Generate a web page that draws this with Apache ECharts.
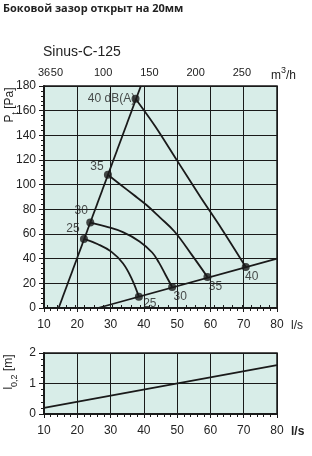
<!DOCTYPE html>
<html>
<head>
<meta charset="utf-8">
<script src="https://cdn.jsdelivr.net/npm/echarts@6/dist/echarts.min.js"></script>
<style>
  html, body { margin: 0; padding: 0; background: #fff; }
  #chart { width: 312px; height: 456px; }
</style>
</head>
<body>
<div id="chart"></div>
<script>
// values (x in l/s, y in Pa or m)
const fanLine = [[14.4, 0], [39.1, 180]]
const systemLine = [[26.2, 0], [80, 40]]
const curve25 = [[22, 56], [26.2, 51.7], [30.2, 45.7], [33.7, 36.3], [36.3, 24.1], [38.5, 9.2]]
const curve30 = [[23.9, 69.3], [28.7, 66], [33.7, 61.5], [38.7, 54], [42.5, 45], [44.5, 37], [46.5, 27], [48.5, 17]]
const curve35 = [[29.2, 108], [33, 100], [36.8, 92], [40.8, 83.5], [44.8, 73.5], [49.2, 62], [54.3, 43.5], [59.1, 25.2]]
const curve40 = [[37.5, 169.7], [43.5, 147], [50, 119.5], [57, 90], [63.3, 64.5], [70.6, 33.3]]
const fanPoints = [[22, 56], [23.9, 69.3], [29.2, 108], [37.5, 169.7]]
const fanLabels = ['25', '30', '35', '40 dB(A)']
const sysPoints = [[38.5, 9.2], [48.5, 17], [59.1, 25.2], [70.6, 33.3]]
const sysLabels = ['25', '30', '35', '40']
const markPoints = [[43.6, 168], [73.8, 43.4]]
const markLabels = ['|-|', '|+|']
const throwLine = [[10, 0.2], [80, 1.6]]
const m3hLabels = [36, 50, 100, 150, 200, 250]
const m3hTicks = [40, 50, 60, 70, 80, 90, 100, 110, 120, 130, 140, 150, 160, 170, 180, 190, 200, 210, 220, 230, 240, 250, 260, 270, 280]

const font = '"Liberation Sans", Arial, sans-serif'
const ink = '#1a1a1a'
const fill = '#d8ede8'

// label offsets for the dots (pixels from the dot centre)
const fanOffsets = [[-11, -10], [-9, -12], [-11, -8], [-24, 0]]
const sysOffsets = [[11, 7], [8, 10], [8, 10], [6, 10]]

const chart = echarts.init(document.getElementById('chart'), null, { renderer: 'canvas' })

const lineSeries = (data, xi, yi, smooth) => ({
  type: 'line',
  xAxisIndex: xi,
  yAxisIndex: yi,
  data,
  smooth: smooth || false,
  symbol: 'none',
  silent: true,
  lineStyle: { color: ink, width: 1.8 }
})

const dotSeries = (points, labels, offsets) => ({
  type: 'scatter',
  xAxisIndex: 0,
  yAxisIndex: 0,
  symbolSize: 8,
  itemStyle: { color: ink },
  z: 5,
  data: points.map((p, i) => ({
    value: p,
    label: {
      show: true,
      formatter: labels[i],
      position: 'inside',
      offset: offsets[i],
      color: '#222',
      fontSize: 12,
      fontFamily: font
    }
  }))
})

const xBase = {
  type: 'value',
  min: 10,
  max: 80,
  interval: 10,
  axisLine: { show: true, onZero: false, lineStyle: { color: ink, width: 2 } },
  axisTick: { show: true, length: 4, lineStyle: { color: ink } },
  minorTick: { show: true, splitNumber: 5, length: 3, lineStyle: { color: ink } },
  axisLabel: { color: '#222', fontSize: 12, fontFamily: font, margin: 11 },
  splitLine: { show: true, lineStyle: { color: ink, width: 1 } }
}

const grids = [
  { left: 44, right: 35, top: 86, height: 222, show: true, backgroundColor: fill, borderColor: ink, borderWidth: 1.5 },
  { left: 44, right: 35, top: 353, height: 61, show: true, backgroundColor: fill, borderColor: ink, borderWidth: 1.5 }
]

const option = {
  animation: false,
  textStyle: { fontFamily: font },
  grid: grids,
  xAxis: [
    Object.assign({}, xBase, { gridIndex: 0 }),
    {
      type: 'value',
      gridIndex: 0,
      position: 'top',
      min: 36,
      max: 288,
      axisLine: { show: true, lineStyle: { color: ink, width: 2 } },
      axisTick: { show: true, length: 3, customValues: m3hTicks, lineStyle: { color: ink } },
      axisLabel: {
        show: true, customValues: m3hLabels, showMinLabel: true, hideOverlap: false,
        color: '#222', fontSize: 11, fontFamily: font, margin: 8
      },
      splitLine: { show: false }
    },
    Object.assign({}, xBase, { gridIndex: 1 })
  ],
  yAxis: [
    {
      type: 'value',
      gridIndex: 0,
      min: 0,
      max: 180,
      interval: 20,
      axisLine: { show: true, lineStyle: { color: ink, width: 2 } },
      axisTick: { show: true, length: 5, lineStyle: { color: ink } },
      minorTick: { show: true, splitNumber: 5, length: 3, lineStyle: { color: ink } },
      axisLabel: { color: '#222', fontSize: 12, fontFamily: font, margin: 8 },
      splitLine: { show: true, lineStyle: { color: ink, width: 1 } }
    },
    {
      type: 'value',
      gridIndex: 1,
      min: 0,
      max: 2,
      interval: 1,
      axisLine: { show: true, lineStyle: { color: ink, width: 2 } },
      axisTick: { show: true, length: 5, lineStyle: { color: ink } },
      minorTick: { show: true, splitNumber: 5, length: 3, lineStyle: { color: ink } },
      axisLabel: { color: '#222', fontSize: 12, fontFamily: font, margin: 8 },
      splitLine: { show: true, lineStyle: { color: ink, width: 1 } }
    }
  ],
  series: [
    lineSeries(fanLine, 0, 0),
    lineSeries(systemLine, 0, 0),
    lineSeries(curve25, 0, 0, 0.4),
    lineSeries(curve30, 0, 0, 0.4),
    lineSeries(curve35, 0, 0, 0.4),
    lineSeries(curve40, 0, 0, 0.3),
    dotSeries(fanPoints, fanLabels, fanOffsets),
    dotSeries(sysPoints, sysLabels, sysOffsets),
    {
      type: 'scatter',
      xAxisIndex: 0,
      yAxisIndex: 0,
      symbol: 'none',
      data: markPoints.map((p, i) => ({
        value: p,
        label: { show: true, formatter: markLabels[i], position: 'inside', color: '#333', fontSize: 10, fontFamily: font }
      }))
    },
    lineSeries(throwLine, 2, 1)
  ],
  graphic: [
    {
      type: 'text', left: 3, top: 3,
      style: { text: 'Боковой зазор открыт на 20мм', font: 'bold 11px "Open Sans", sans-serif', fill: '#222' }
    },
    {
      type: 'text', x: 43, y: 52,
      style: { text: 'Sinus-C-125', font: '14px ' + font, fill: '#222', verticalAlign: 'middle' }
    },
    {
      type: 'text', x: 271, y: 74,
      style: {
        text: '{a|m}{s|3}{a|/h}',
        verticalAlign: 'middle',
        rich: {
          a: { fontSize: 12, fontFamily: font, fill: '#222', verticalAlign: 'bottom', lineHeight: 16 },
          s: { fontSize: 9, fontFamily: font, fill: '#222', verticalAlign: 'top', lineHeight: 10 }
        }
      }
    },
    {
      type: 'text', x: 291, y: 326,
      style: { text: 'l/s', font: '12px ' + font, fill: '#222', verticalAlign: 'middle' }
    },
    {
      type: 'text', x: 291, y: 432,
      style: { text: 'l/s', font: 'bold 12px ' + font, fill: '#222', verticalAlign: 'middle' }
    },
    {
      type: 'text', x: 12, y: 105, rotation: Math.PI / 2,
      style: {
        text: '{a|P}{s|t}{a| [Pa]}',
        align: 'center',
        verticalAlign: 'middle',
        rich: {
          a: { fontSize: 12, fontFamily: font, fill: '#222', verticalAlign: 'top', lineHeight: 16 },
          s: { fontSize: 9, fontFamily: font, fill: '#222', verticalAlign: 'bottom', lineHeight: 10 }
        }
      }
    },
    {
      type: 'text', x: 11, y: 372, rotation: Math.PI / 2,
      style: {
        text: '{a|l}{s|0,2}{a| [m]}',
        align: 'center',
        verticalAlign: 'middle',
        rich: {
          a: { fontSize: 12, fontFamily: font, fill: '#222', verticalAlign: 'top', lineHeight: 16 },
          s: { fontSize: 9, fontFamily: font, fill: '#222', verticalAlign: 'bottom', lineHeight: 10 }
        }
      }
    }
  ]
}

chart.setOption(option)
</script>
</body>
</html>
